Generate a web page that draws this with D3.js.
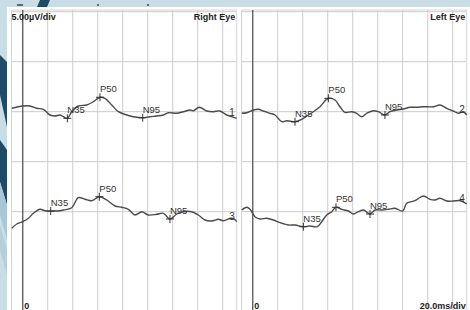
<!DOCTYPE html>
<html>
<head>
<meta charset="utf-8">
<script src="https://cdn.jsdelivr.net/npm/d3@7"></script>
<style>
  html, body { margin: 0; padding: 0; background: #fff; }
  svg { display: block; }
  text { font-family: "Liberation Sans", Arial, sans-serif; }
</style>
</head>
<body>
<script>
// ---- DATA (time in ms, amplitude in µV relative to channel baseline) ----
const panelTitles = ["Right Eye", "Left Eye"];
const ampLabel = "5.00µV/div";
const timeLabel = "20.0ms/div";
const zeroLabel = "0";
const timeTicks = [0, 20, 40, 60, 80, 100, 120, 140, 160];
const ampDivs = [-10, -5, 0, 5, 10]; // µV grid relative to upper channel baseline (5 µV/div)
const channelNames = ["1", "2", "3", "4"];

const ch1 = [[-8.8,0.34],[0,0.57],[5.8,0.57],[11.2,0.34],[16.5,0.24],[21.8,-0.33],[25.8,-0.43],[29.8,-0.33],[32.5,-0.5],[35.7,-0.66],[39.2,0],[44.5,0.57],[51.2,0.67],[56.5,1.0],[61.8,1.44],[65.8,1.34],[71.2,0.67],[76.5,0],[83.2,-0.33],[88.5,-0.5],[96,-0.6],[101.8,-0.5],[107.2,-0.43],[112.5,-0.33],[116.5,-0.1],[123.2,-0.16],[128.5,0],[133.8,0.17],[136.5,0.1],[141.3,0.44],[147.2,0.07],[152.5,0],[157.8,0.07],[163.2,-0.33],[167.2,-0.5],[171.2,-0.66]];
const ch2 = [[-8.8,-0.16],[-4.8,-0.1],[0.5,0.17],[4.5,0.24],[8.5,0.07],[13.8,-0.16],[17.8,-0.33],[23.2,-1.0],[27.2,-0.9],[33.8,-1.0],[39.2,-0.76],[44.5,-0.33],[48.5,0],[53.8,0.5],[60.5,1.34],[65.8,1.17],[69.8,0.5],[73.8,-0.06],[79.2,0],[83.2,-0.16],[87.2,-0.5],[91.2,-0.16],[96.5,0.1],[100.5,0],[105.8,-0.33],[109.8,0],[115.2,0.17],[120.5,0.27],[125.8,0.44],[131.2,0.44],[136.5,0.5],[144.5,0.5],[149.8,0.67],[155.2,0.34],[160.5,0.07],[164.5,-0.16],[168.5,0],[171.2,-0.33]];
const ch3 = [[-8.8,-1.66],[-4.8,-1.23],[0,-1.0],[4.5,-0.66],[8.5,-0.16],[13.8,0.24],[17.8,0.1],[22.4,0.07],[27.2,0.07],[32.5,0.17],[39.2,0.4],[44.5,1.4],[49.8,1.24],[55.2,1.1],[61.3,1.5],[67.2,1.17],[73.8,0.57],[79.2,0.44],[84.5,0.24],[89.8,-0.33],[95.2,0],[100.5,-0.33],[107.2,-0.26],[112.5,-0.16],[117.8,-0.73],[123.2,-0.23],[128.5,0],[135.2,0],[140.5,-0.33],[145.8,-0.83],[151.2,-0.93],[156.5,-0.76],[160.5,-0.9],[166.8,-0.66],[169.5,-0.76],[171.2,-1.0]];
const ch4 = [[-8.8,0.17],[-4.8,0.44],[-2.2,0.24],[1.8,-0.5],[5.8,-0.73],[11.2,-0.66],[16.5,-0.83],[21.8,-1.1],[28.5,-1.33],[33.8,-1.33],[40.5,-1.5],[45.8,-1.43],[51.7,-1.5],[55.2,-1.0],[59.2,-0.33],[63.2,0],[66.6,0.44],[71.2,0.24],[76.5,0.07],[80.5,-0.23],[84.5,0],[88.5,0.17],[93.8,-0.23],[97.8,0.17],[103.2,0.17],[108.5,0.24],[113.8,0.34],[120,0.07],[123.2,0.84],[129.8,1.1],[136.5,1.57],[141.8,1.24],[145.8,1.17],[149.8,1.34],[155.2,1.07],[160.5,1.07],[166.2,1.1],[171.2,0.77]];

const peakNames = ["N35", "P50", "N95"];
const ch1Peaks = [[35.7,-0.66],[61.8,1.44],[96,-0.6]];
const ch2Peaks = [[33.8,-1.0],[60.5,1.34],[105.8,-0.33]];
const ch3Peaks = [[22.4,0.07],[61.3,1.5],[117.8,-0.73]];
const ch4Peaks = [[40.5,-1.5],[66.6,0.44],[93.8,-0.23]];

// ---- LAYOUT ----
const W = 470, H = 310;
const svg = d3.select("body").append("svg").attr("width", W).attr("height", H);

// slide background
svg.append("rect").attr("width", W).attr("height", H).attr("fill", "#c8dde6");
const deco = svg.append("g");
deco.append("polygon").attr("points", "40,0 50,0 47,7 37,7").attr("fill", "#1f4b68");
deco.append("polygon").attr("points", "0,55 7,62 7,127 0,95").attr("fill", "#1f4b68");
deco.append("polygon").attr("points", "0,140 7,150 7,205 0,182").attr("fill", "#1f4b68");
deco.append("polygon").attr("points", "0,182 7,205 7,240 0,215").attr("fill", "#a9c8d6");
deco.append("polygon").attr("points", "0,225 7,250 7,275 0,250").attr("fill", "#b3cfdb");
// cut-off marks of text above the chart
[[17, 4, 6], [97, 4, 2], [147, 4, 2]].forEach(m => deco.append("rect")
  .attr("x", m[0]).attr("y", m[1]).attr("width", m[2]).attr("height", 2).attr("fill", "#5a6a72"));
svg.append("rect").attr("x", 7).attr("y", 7).attr("width", W - 7).attr("height", H - 7).attr("fill", "#fff");

const panels = [
  { title: panelTitles[0], x0: 11.5, x1: 236.7, chans: [[ch1, ch1Peaks, channelNames[0]], [ch3, ch3Peaks, channelNames[2]]] },
  { title: panelTitles[1], x0: 241.5, x1: 466.7, chans: [[ch2, ch2Peaks, channelNames[1]], [ch4, ch4Peaks, channelNames[3]]] }
];
const baselines = [111.7, 211.7];
const topY = 10, botY = 312;

panels.forEach((p, pi) => {
  const g = svg.append("g");
  const x = d3.scaleLinear().domain([-9, 171.2]).range([p.x0, p.x1]);
  const yGrid = d3.scaleLinear().domain([-5, 5]).range([baselines[0] + 50, baselines[0] - 50]);

  // horizontal grid
  g.selectAll(".hg").data(ampDivs).enter().append("line")
    .attr("x1", p.x0).attr("x2", p.x1)
    .attr("y1", d => yGrid(d)).attr("y2", d => yGrid(d))
    .attr("stroke", "#cbcbcb").attr("stroke-width", 1);
  // vertical grid
  g.selectAll(".vg").data(timeTicks.filter(t => t !== 0)).enter().append("line")
    .attr("x1", d => x(d)).attr("x2", d => x(d))
    .attr("y1", topY).attr("y2", botY)
    .attr("stroke", "#cbcbcb").attr("stroke-width", 1);
  // panel edges
  [p.x0, p.x1].forEach(px => g.append("line").attr("x1", px).attr("x2", px)
    .attr("y1", topY).attr("y2", botY).attr("stroke", "#d4d4d4").attr("stroke-width", 1));
  g.append("line").attr("x1", p.x0).attr("x2", p.x1).attr("y1", topY).attr("y2", topY)
    .attr("stroke", "#d4d4d4");
  // zero line
  g.append("line").attr("x1", x(0)).attr("x2", x(0)).attr("y1", topY).attr("y2", botY)
    .attr("stroke", "#555").attr("stroke-width", 1.3);

  // traces
  p.chans.forEach(([data, peaks, name], ci) => {
    const y = d3.scaleLinear().domain([-5, 5]).range([baselines[ci] + 50, baselines[ci] - 50]);
    const line = d3.line().x(d => x(d[0])).y(d => y(d[1])).curve(d3.curveCatmullRom.alpha(0.5));
    g.append("path").datum(data).attr("d", line)
      .attr("fill", "none").attr("stroke", "#4a4a4a").attr("stroke-width", 1.4);
    peaks.forEach((pk, k) => {
      const px = x(pk[0]), py = y(pk[1]);
      g.append("path").attr("d", `M${px - 4},${py}H${px + 4}M${px},${py - 4}V${py + 4}`)
        .attr("stroke", "#333").attr("stroke-width", 1);
      g.append("text").attr("x", px).attr("y", py - 5).attr("font-size", 9.5)
        .attr("fill", "#333").text(peakNames[k]);
    });
    const last = data[data.length - 1];
    g.append("text").attr("x", p.x1 - 7.5).attr("y", y(last[1]) - 2)
      .attr("font-size", 10).attr("fill", "#333").text(name);
  });

  // titles
  g.append("text").attr("x", p.x1 - 1.5).attr("y", 20).attr("text-anchor", "end")
    .attr("font-size", 9).attr("font-weight", "bold").attr("fill", "#222").text(p.title);
  g.append("text").attr("x", x(0) + 1.5).attr("y", 309)
    .attr("font-size", 9).attr("font-weight", "bold").attr("fill", "#222").text(zeroLabel);
  if (pi === 0) {
    g.append("text").attr("x", p.x0).attr("y", 20)
      .attr("font-size", 9).attr("font-weight", "bold").attr("fill", "#222").text(ampLabel);
  } else {
    g.append("text").attr("x", p.x1 - 1).attr("y", 309).attr("text-anchor", "end")
      .attr("font-size", 9).attr("font-weight", "bold").attr("fill", "#222").text(timeLabel);
  }
});
</script>
</body>
</html>
